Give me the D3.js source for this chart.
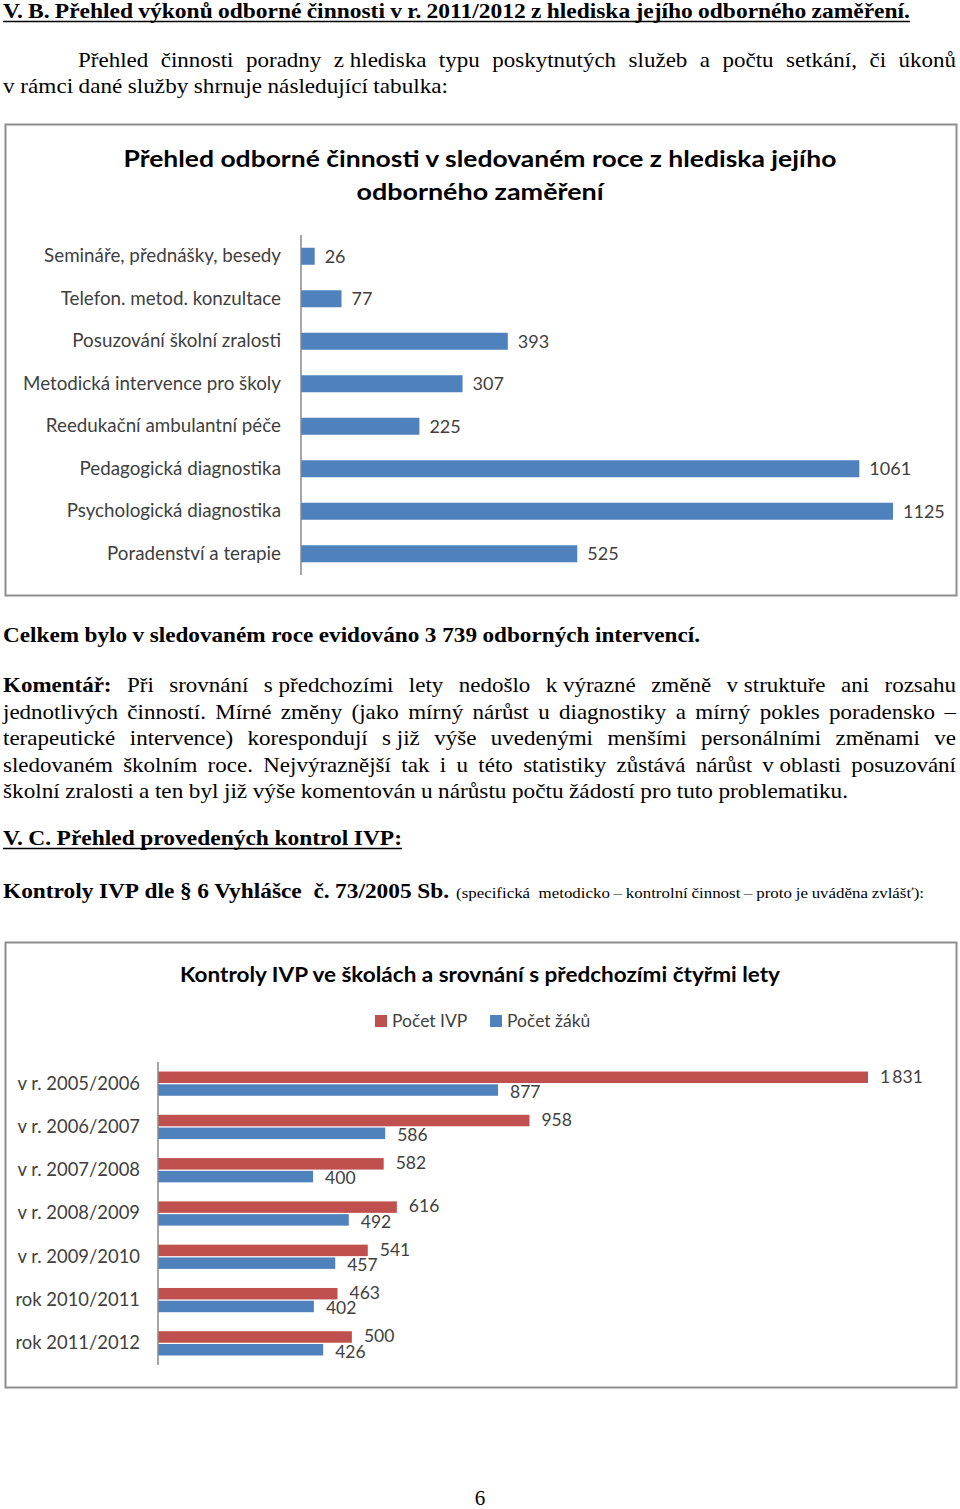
<!DOCTYPE html>
<html><head><meta charset="utf-8">
<script src="https://cdn.jsdelivr.net/npm/d3@7"></script>
<style>
html,body{margin:0;padding:0;background:#fff;}
svg{display:block;}
</style></head>
<body>
<script>
// ---------- Chart 1 data ----------
const activityCategories = ["Semináře, přednášky, besedy","Telefon. metod. konzultace","Posuzování školní zralosti","Metodická intervence pro školy","Reedukační ambulantní péče","Pedagogická diagnostika","Psychologická diagnostika","Poradenství a terapie"];
const activityValues = [26, 77, 393, 307, 225, 1061, 1125, 525];
const chart1Title = ["Přehled odborné činnosti v sledovaném roce z hlediska jejího","odborného zaměření"];

// ---------- Chart 2 data ----------
const yearCategories = ["v r. 2005/2006","v r. 2006/2007","v r. 2007/2008","v r. 2008/2009","v r. 2009/2010","rok 2010/2011","rok 2011/2012"];
const seriesNames = ["Počet IVP","Počet žáků"];
const ivpValues = [1831, 958, 582, 616, 541, 463, 500];
const pupilValues = [877, 586, 400, 492, 457, 402, 426];
const seriesColors = ["#C0504D","#4F81BD"];
const chart2Title = "Kontroly IVP ve školách a srovnání s předchozími čtyřmi lety";

const SERIF = "'Liberation Serif','Times New Roman',serif";
const SANS = "Lato,'Open Sans',sans-serif";

const svg = d3.select("body").append("svg").attr("width",960).attr("height",1509);

// text line helper: words placed between x0 and x1
function textLine(words, x0, x1, y, o){
  const g = svg.append("g");
  const size = o.size || 22;
  const items = words.map(w => {
    const t = g.append("text").attr("y", y).attr("font-family", SERIF)
      .attr("font-size", size).attr("font-weight", (w.bold||o.bold) ? "bold" : "normal")
      .attr("fill","#000").text(w.t);
    return {t, w: t.node().getComputedTextLength()};
  });
  const total = d3.sum(items, d => d.w);
  const n = items.length;
  const avail = x1 - x0;
  let sx, gap;
  if (o.justify) {
    sx = o.sx || 1.045;
    if (total*sx + (n-1)*size*0.2 > avail) sx = (avail - (n-1)*size*0.2)/total;
    gap = n>1 ? (avail - total*sx)/(n-1) : 0;
  } else {
    gap = size*(o.space || 0.25);
    sx = (avail - gap*(n-1))/total;
  }
  let x = x0;
  items.forEach(d => {
    d.t.attr("x", x).attr("textLength", d.w*sx).attr("lengthAdjust","spacingAndGlyphs");
    x += d.w*sx + gap;
  });
  if (o.underline) {
    g.append("line").attr("x1", x0).attr("x2", x1).attr("y1", y+3.5).attr("y2", y+3.5)
      .attr("stroke","#000").attr("stroke-width",1.6);
  }
}
const W = s => s.split(" ").map(t => ({t: t.replace(/_/g,"\u00a0")}));

// ---------- document text ----------
textLine(W("V. B. Přehled výkonů odborné činnosti v r. 2011/2012 z hlediska jejího odborného zaměření."), 3, 910, 18, {bold:true, underline:true, size:21});
textLine(W("Přehled činnosti poradny z_hlediska typu poskytnutých služeb a počtu setkání, či úkonů"), 78, 956, 67, {justify:true});
textLine(W("v_rámci dané služby shrnuje následující tabulka:"), 3, 448, 93, {});

textLine(W("Celkem bylo v sledovaném roce evidováno 3_739 odborných intervencí."), 3, 700, 642, {bold:true});
const l5 = W("Komentář: Při srovnání s_předchozími lety nedošlo k_výrazné změně v_struktuře ani rozsahu");
l5[0].bold = true;
textLine(l5, 3, 956, 692, {justify:true});
textLine(W("jednotlivých činností. Mírné změny (jako mírný nárůst u diagnostiky a mírný pokles poradensko –"), 3, 956, 719, {justify:true});
textLine(W("terapeutické intervence) korespondují s_již výše uvedenými menšími personálními změnami ve"), 3, 956, 745, {justify:true});
textLine(W("sledovaném školním roce. Nejvýraznější tak i u této statistiky zůstává nárůst v_oblasti posuzování"), 3, 956, 772, {justify:true});
textLine(W("školní zralosti a ten byl již výše komentován u nárůstu počtu žádostí pro tuto problematiku."), 3, 848, 798, {});
textLine(W("V. C. Přehled provedených kontrol IVP:"), 3, 402, 845, {bold:true, underline:true});
textLine(W("Kontroly IVP dle § 6 Vyhlášce__č. 73/2005 Sb."), 3, 449, 898, {bold:true, size:22});
textLine(W("(specifická__metodicko – kontrolní činnost – proto je uváděna zvlášť):"), 456, 924, 898, {size:15});

svg.append("text").attr("x",480).attr("y",1505).attr("text-anchor","middle")
  .attr("font-family",SERIF).attr("font-size",21).text("6");

// ---------- Chart 1 ----------
const c1 = svg.append("g");
c1.append("rect").attr("x",5.5).attr("y",124.5).attr("width",951).attr("height",471)
  .attr("fill","#fff").attr("stroke","#8e8e8e").attr("stroke-width",2);
chart1Title.forEach((t,i) => {
  c1.append("text").attr("x",480).attr("y",167+i*33).attr("text-anchor","middle")
    .attr("font-family",SANS).attr("font-weight","bold").attr("font-size",23.5).attr("fill","#000")
    .attr("textLength", i===0 ? 713 : 247).attr("lengthAdjust","spacingAndGlyphs").text(t);
});
const y1 = d3.scaleBand().domain(activityCategories).range([235,575]).paddingInner(0.6).paddingOuter(0.3);
const x1 = d3.scaleLinear().domain([0,1125]).range([301,893]);
c1.selectAll("rect.bar").data(activityCategories).join("rect").attr("class","bar")
  .attr("x", x1(0)).attr("y", d => y1(d)).attr("height", y1.bandwidth())
  .attr("width", (d,i) => x1(activityValues[i]) - x1(0)).attr("fill","#4F81BD");
c1.selectAll("text.val").data(activityCategories).join("text").attr("class","val")
  .attr("x", (d,i) => x1(activityValues[i]) + 10).attr("y", d => y1(d) + y1.bandwidth()/2)
  .attr("dy","0.36em").attr("font-family",SANS).attr("font-size",18).attr("fill","#404040")
  .text((d,i) => activityValues[i]);
const ax1 = c1.append("g").attr("transform","translate(301,0)")
  .call(d3.axisLeft(y1).tickSize(0).tickPadding(20));
ax1.select(".domain").attr("stroke","#888").attr("stroke-width",1.5).attr("d","M0,235V575");
ax1.selectAll("text").attr("font-family",SANS).attr("font-size",18.8).attr("fill","#404040");

// ---------- Chart 2 ----------
const c2 = svg.append("g");
c2.append("rect").attr("x",5.5).attr("y",942.5).attr("width",951).attr("height",445)
  .attr("fill","#fff").attr("stroke","#8e8e8e").attr("stroke-width",2);
c2.append("text").attr("x",480).attr("y",982).attr("text-anchor","middle")
  .attr("font-family",SANS).attr("font-weight","bold").attr("font-size",20).attr("fill","#000")
  .attr("textLength",600).attr("lengthAdjust","spacingAndGlyphs").text(chart2Title);
// legend
const legendX = [375, 490];
seriesNames.forEach((s,i) => {
  c2.append("rect").attr("x",legendX[i]).attr("y",1015).attr("width",12).attr("height",12).attr("fill",seriesColors[i]);
  c2.append("text").attr("x",legendX[i]+17).attr("y",1021).attr("dy","0.36em")
    .attr("font-family",SANS).attr("font-size",17.5).attr("fill","#404040").text(s);
});
const y2 = d3.scaleBand().domain(yearCategories).range([1062,1365]).paddingInner(0.44).paddingOuter(0.22);
const y2s = d3.scaleBand().domain(seriesNames).range([0, y2.bandwidth()]).paddingInner(0.1);
const x2 = d3.scaleLinear().domain([0,1831]).range([158,868]);
const fmt = v => v >= 1000 ? d3.format(",")(v).replace(",","\u2009") : String(v);
const seriesData = [ivpValues, pupilValues];
const labelShift = [-1, 1.5];
seriesNames.forEach((s,si) => {
  const vals = seriesData[si];
  c2.selectAll("rect.b"+si).data(yearCategories).join("rect").attr("class","b"+si)
    .attr("x", x2(0)).attr("y", d => y2(d) + y2s(s)).attr("height", y2s.bandwidth())
    .attr("width", (d,i) => x2(vals[i]) - x2(0)).attr("fill", seriesColors[si]);
  c2.selectAll("text.v"+si).data(yearCategories).join("text").attr("class","v"+si)
    .attr("x", (d,i) => x2(vals[i]) + 12).attr("y", d => y2(d) + y2s(s) + y2s.bandwidth()/2 + labelShift[si])
    .attr("dy","0.36em").attr("font-family",SANS).attr("font-size",17.5).attr("fill","#404040")
    .text((d,i) => fmt(vals[i]));
});
const ax2 = c2.append("g").attr("transform","translate(158,0)")
  .call(d3.axisLeft(y2).tickSize(0).tickPadding(18));
ax2.select(".domain").attr("stroke","#888").attr("stroke-width",1.5).attr("d","M0,1062V1365");
ax2.selectAll("text").attr("font-family",SANS).attr("font-size",18.4).attr("fill","#404040");
</script>
</body></html>
